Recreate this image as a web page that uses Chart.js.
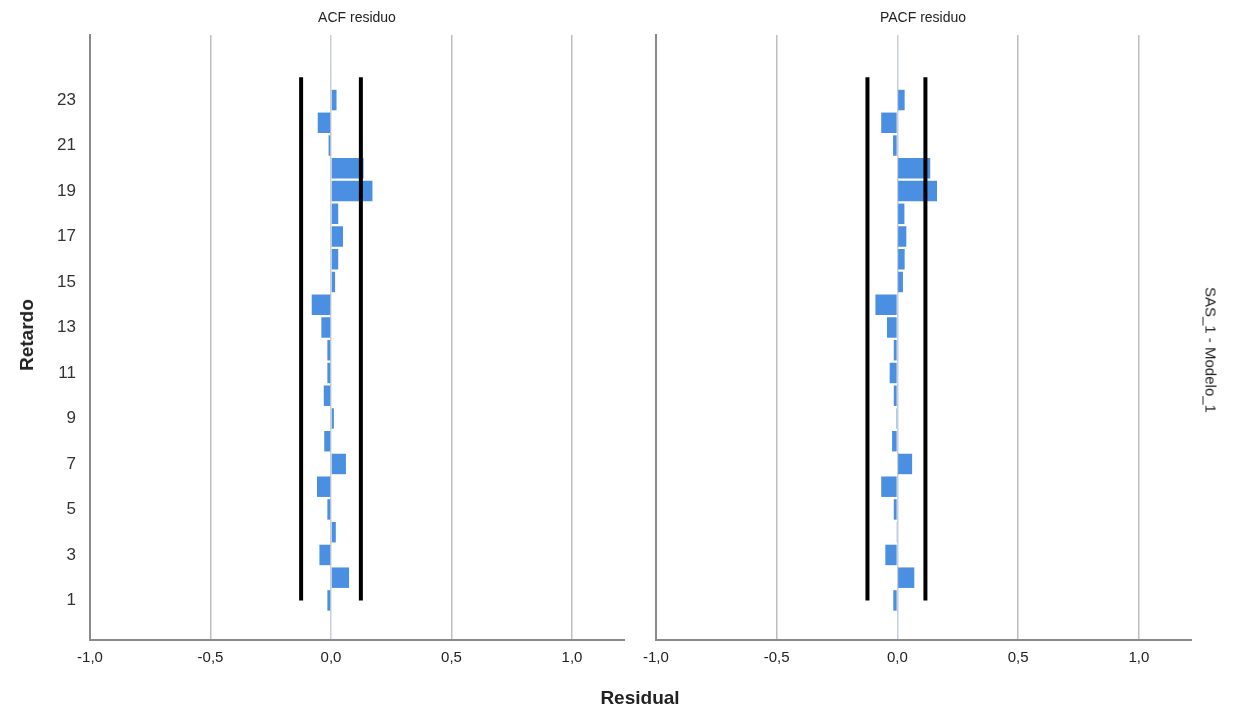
<!DOCTYPE html>
<html>
<head>
<meta charset="utf-8">
<script src="https://cdn.jsdelivr.net/npm/chart.js@4.4.1/dist/chart.umd.min.js"></script>
<style>
  html, body { margin: 0; padding: 0; background: #fff; }
  body { width: 1235px; height: 718px; position: relative; overflow: hidden; font-family: "Liberation Sans", Arial, sans-serif; }
  .cv { position: absolute; top: 0; }
  .txt { position: absolute; color: #222; white-space: nowrap; }
</style>
</head>
<body>
<div class="cv" style="left:0;width:640px;height:690px;"><canvas id="acf"></canvas></div>
<div class="cv" style="left:634px;width:601px;height:690px;"><canvas id="pacf"></canvas></div>

<div class="txt" id="t1" style="left:357px;top:9px;transform:translateX(-50%);font-size:14px;">ACF residuo</div>
<div class="txt" id="t2" style="left:923px;top:9px;transform:translateX(-50%);font-size:14px;">PACF residuo</div>
<div class="txt" style="left:27px;top:335px;transform:translate(-50%,-50%) rotate(-90deg);font-size:19px;font-weight:bold;">Retardo</div>
<div class="txt" style="left:640px;top:698px;transform:translate(-50%,-50%);font-size:19px;font-weight:bold;">Residual</div>
<div class="txt" style="left:1211px;top:350px;transform:translate(-50%,-50%) rotate(90deg);font-size:15px;">SAS_1 - Modelo_1</div>

<script>
// ---- data ----
const lags = [1,2,3,4,5,6,7,8,9,10,11,12,13,14,15,16,17,18,19,20,21,22,23,24];
const acfValues = [-0.015, 0.075, -0.048, 0.02, -0.015, -0.058, 0.062, -0.028, 0.012, -0.03,
                   -0.015, -0.015, -0.04, -0.08, 0.017, 0.03, 0.05, 0.03, 0.172, 0.135,
                   -0.01, -0.055, 0.023, 0.003];
const pacfValues = [-0.017, 0.07, -0.05, -0.004, -0.015, -0.067, 0.061, -0.022, -0.005, -0.015,
                    -0.032, -0.015, -0.043, -0.091, 0.023, 0.03, 0.037, 0.029, 0.164, 0.136,
                    -0.018, -0.067, 0.03, 0.003];
const acfLimits = [-0.124, 0.124];
const pacfLimits = [-0.124, 0.116];
const yTickLabels = [1,3,5,7,9,11,13,15,17,19,21,23];
const xTickValues = [-1.0, -0.5, 0.0, 0.5, 1.0];

const BAR_COLOR = '#4a8fe2';
const fmt = v => v.toFixed(1).replace('.', ',');

function makeChart(id, values, limits, showY, yWidth, rightPad) {
  const barData = lags.map((l, i) => ({ x: values[i], y: l }));
  const lim = limits.map(v => ({
    type: 'line',
    data: [{ x: v, y: lags[0] }, { x: v, y: lags[lags.length - 1] }],
    borderColor: '#000',
    borderWidth: 4,
    pointRadius: 0,
    fill: false,
    order: 0
  }));
  return new Chart(document.getElementById(id), {
    type: 'bar',
    data: {
      datasets: [{
        type: 'bar',
        data: barData,
        backgroundColor: BAR_COLOR,
        borderWidth: 0,
        barPercentage: 0.9,
        categoryPercentage: 1.0,
        order: 1
      }, ...lim]
    },
    options: {
      indexAxis: 'y',
      responsive: true,
      maintainAspectRatio: false,
      animation: false,
      layout: { padding: { top: 35, right: rightPad, left: 0, bottom: 0 } },
      plugins: { legend: { display: false }, tooltip: { enabled: false }, title: { display: false } },
      scales: {
        x: {
          type: 'linear',
          min: -1.0,
          max: 1.22,
          afterBuildTicks: s => { s.ticks = xTickValues.map(v => ({ value: v })); },
          afterFit: s => { s.height = 50; },
          ticks: {
            callback: v => fmt(v),
            color: '#222',
            font: { family: 'Liberation Sans', size: 15 },
            padding: 9,
            maxRotation: 0
          },
          grid: {
            color: ctx => (ctx.tick && ctx.tick.value === 0) ? '#c9cfd8' : '#bdbdbd',
            lineWidth: ctx => (ctx.tick && ctx.tick.value === -1) ? 0 : 1.5,
            drawTicks: false
          },
          border: { display: true, color: '#8a8a8a', width: 2 }
        },
        y: {
          type: 'linear',
          offset: false,
          min: -0.74,
          max: 25.86,
          afterBuildTicks: s => { s.ticks = yTickLabels.map(v => ({ value: v })); },
          afterFit: s => { s.width = yWidth; },
          ticks: {
            display: showY,
            color: '#333',
            font: { family: 'Liberation Sans', size: 17 },
            padding: 14
          },
          grid: { display: false, drawTicks: false, offset: false },
          border: { display: true, color: '#8a8a8a', width: 2 }
        }
      }
    }
  });
}

makeChart('acf', acfValues, acfLimits, true, 90, 15);
makeChart('pacf', pacfValues, pacfLimits, false, 15, 43);
</script>
</body>
</html>
